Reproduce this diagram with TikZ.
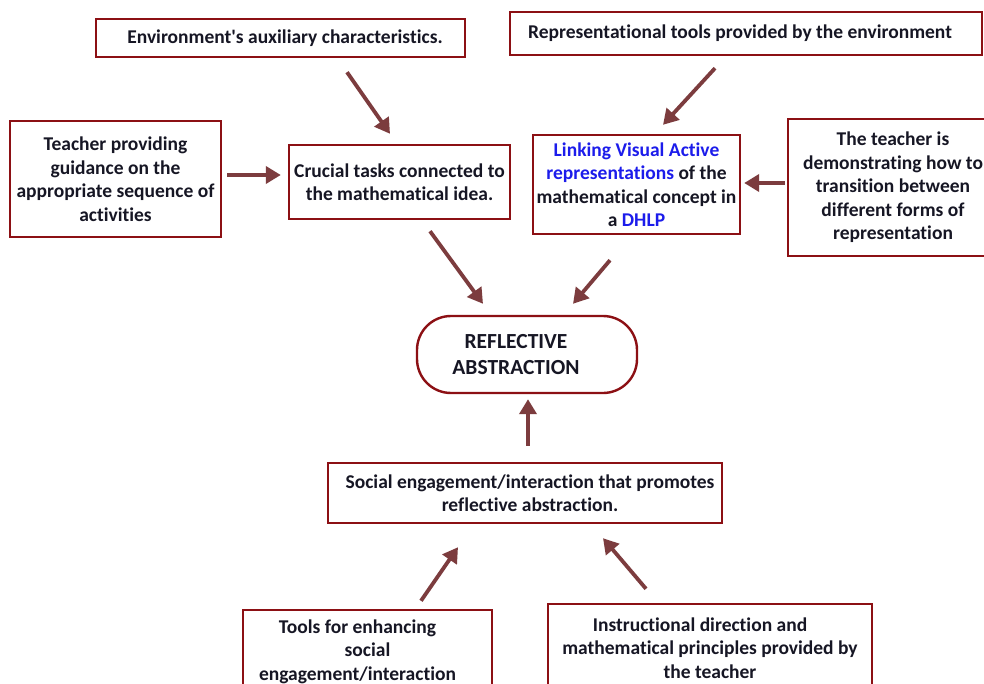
\documentclass[tikz,border=0pt]{standalone}
\usepackage{fontspec}
\setmainfont{Carlito}[Ligatures={TeX,NoCommon}]
\usetikzlibrary{arrows.meta,calc}
\definecolor{boxred}{RGB}{140,16,20}
\definecolor{arrowbrown}{RGB}{124,60,62}
\definecolor{inktext}{RGB}{22,22,36}
\definecolor{linkblue}{RGB}{28,28,235}
\begin{document}
\begin{tikzpicture}[x=1pt,y=-1pt,
  box/.style={draw=boxred,line width=2.4pt,fill=white,align=center,
    font=\bfseries\fontsize{19.5}{23.5}\selectfont,text=inktext,inner sep=0pt},
  pill/.style={box,rounded corners=34pt,font=\bfseries\fontsize{21.5}{26}\selectfont},
  arr/.style={draw=arrowbrown,line width=3.8pt,
    -{Triangle[length=15pt,width=17pt]}}]
\useasboundingbox (0,0) rectangle (984,684);
\fill[white] (0,0) rectangle (984,684);

% top row
\node[box,minimum width=369pt,minimum height=38pt] (env) at (280.5,38)
  {\hspace*{9pt}Environment\textquotesingle s auxiliary characteristics.};
\node[box,minimum width=472pt,minimum height=43pt] (rep) at (746,33.5)
  {Representational tools provided by the environment\hspace*{12pt}};

% middle row
\node[box,minimum width=211pt,minimum height=116pt] (guide) at (115.5,179)
  {Teacher providing\\guidance on the\\appropriate sequence of\\activities};
\node[box,minimum width=221pt,minimum height=74pt] (task) at (399.5,182)
  {Crucial tasks connected to\\the mathematical idea.};
\node[box,minimum width=207pt,minimum height=99pt] (link) at (636.5,184.5)
  {\textcolor{linkblue}{Linking Visual Active}\\
   \textcolor{linkblue}{representations} of the\\
   mathematical concept in\\a \textcolor{linkblue}{DHLP}};
\node[box,minimum width=210pt,minimum height=137pt] (demo) at (893,187.5)
  {The teacher is\\demonstrating how to\\transition between\\different forms of\\representation};

% centre
\node[pill,minimum width=220pt,minimum height=77pt] (refl) at (527,354.5)
  {REFLECTIVE\hspace*{22pt}\\ABSTRACTION\hspace*{22pt}};

% lower part
\node[box,minimum width=394pt,minimum height=60pt] (social) at (525,493)
  {\hspace*{10pt}Social engagement/interaction that promotes\\\hspace*{10pt}reflective abstraction.};
\node[box,minimum width=249pt,minimum height=83pt] (tools) at (367.5,651.5)
  {Tools for enhancing\hspace*{20pt}\\social\hspace*{20pt}\\engagement/interaction\hspace*{20pt}};
\node[box,minimum width=324pt,minimum height=88pt] (instr) at (710,648)
  {Instructional direction and\hspace*{20pt}\\mathematical principles provided by\\the teacher};

% connectors
\draw[arr] ($(env.south)+(66.5,14)$) -- ($(task.north)+(-9.5,-10)$);
\draw[arr] ($(guide.east)+(5,-4)$) -- ($(task.west)+(-7,-7)$);
\draw[arr] ($(rep.south)+(-31,12)$) -- ($(link.north)+(26.5,-9)$);
\draw[arr] ($(demo.west)+(-2,-4.5)$) -- ($(link.east)+(3,-1.5)$);
\draw[arr] ($(task.south)+(30.5,11)$) -- ($(refl.north)+(-44,-11)$);
\draw[arr] ($(link.south)+(-26.5,25)$) -- ($(refl.north)+(46,-11)$);
\draw[arr] ($(social.north)+(3,-16)$) -- ($(refl.south)+(1,5)$);
\draw[arr] ($(tools.north)+(53.5,-8)$) -- ($(social.south)+(-67,23)$);
\draw[arr] ($(instr.north)+(-64,-14)$) -- ($(social.south)+(78,14)$);
\end{tikzpicture}
\end{document}
